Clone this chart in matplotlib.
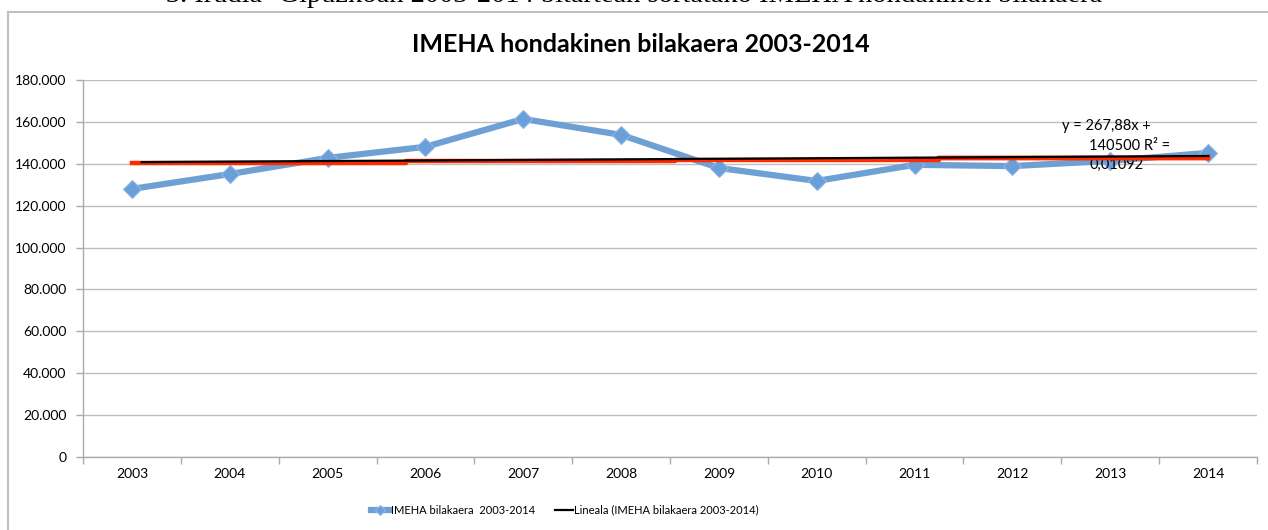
import numpy as np
import matplotlib.pyplot as plt
from matplotlib.patches import Rectangle
from matplotlib.ticker import FuncFormatter

years = ['2003', '2004', '2005', '2006', '2007', '2008',
         '2009', '2010', '2011', '2012', '2013', '2014']
imeha = [128000, 135100, 142800, 148100, 161400, 153800,
         138000, 131800, 139500, 138900, 141400, 145200]
# trendline from the equation label
slope = 267.88
intercept = 140500
r2 = '0,01092'

plt.rcParams['font.family'] = ['Lato', 'DejaVu Sans']

fig = plt.figure(figsize=(12.68, 5.30), dpi=100)

# outer chart frame
fig.patches.append(Rectangle((8 / 1268, -0.1), 1.2, 1.1 - 12 / 530,
                             transform=fig.transFigure, fill=False,
                             edgecolor='#bfbfbf', linewidth=1.5))

# caption of the figure, cut off at the top
fig.text(0.5, 1 - 2.5 / 530, '3. Irudia- Gipuzkoan 2003-2014 bitartean sortatako IMEHA hondakinen bilakaera',
         ha='center', va='baseline', fontsize=20.5, family='Liberation Serif')

ax = fig.add_axes([83 / 1268, 1 - 457 / 530, (1257 - 83) / 1268, (457 - 80) / 530])

x = np.arange(len(years))
ax.plot(x, imeha, color='#6fa0d4', linewidth=4.5, marker='D', markersize=9,
        markerfacecolor='#6b9fda', markeredgecolor='#8db6e4', markeredgewidth=0.8,
        label='IMEHA bilakaera  2003-2014', zorder=3)

# red stepped copy of the trendline underneath
steps = np.array([0, 0.1, 2.8, 5.55, 8.25, 11.0])
red_y = slope * (steps + 1) + intercept - 400
ax.step(steps, red_y, where='post', color='#ff2a00', linewidth=3.2, zorder=4)
ax.plot([steps[-2], steps[-1]], [red_y[-2], red_y[-2]], color='#ff2a00', linewidth=3.2, zorder=4)

tx = np.array([0.1, 11.0])
ax.plot(tx, slope * (tx + 1) + intercept, color='black', linewidth=1.6,
        label='Lineala (IMEHA bilakaera 2003-2014)', zorder=5)

ax.set_xlim(-0.5, 11.5)
ax.set_ylim(0, 180000)
ax.set_yticks(np.arange(0, 180001, 20000))
ax.yaxis.set_major_formatter(FuncFormatter(lambda v, p: f'{int(v):,}'.replace(',', '.')))
ax.set_xticks(np.arange(-0.5, 11.6, 1))
ax.set_xticklabels([])
ax.set_xticks(x, minor=True)
ax.set_xticklabels(years, minor=True)
ax.tick_params(axis='x', which='minor', length=0, pad=8, labelsize=10)
ax.tick_params(axis='x', which='major', length=5, color='#aaaaaa', width=1)
ax.tick_params(axis='y', length=5, color='#aaaaaa', width=1, labelsize=10, pad=7)
ax.grid(axis='y', color='#bfbfbf', linewidth=1)
ax.set_axisbelow(True)
for s in ['top', 'right']:
    ax.spines[s].set_visible(False)
for s in ['left', 'bottom']:
    ax.spines[s].set_color('#aaaaaa')
    ax.spines[s].set_linewidth(1)

fig.text(641 / 1268, 1 - 44 / 530, 'IMEHA hondakinen bilakaera 2003-2014',
         ha='center', va='center', fontsize=18, fontweight='bold')

# trendline equation label
ax.annotate(f'y = {slope:.2f}x +'.replace('.', ','), xy=(1062 / 1268, 1 - 126 / 530),
            xycoords='figure fraction', ha='left', va='center', fontsize=10.5)
ax.annotate(f'{intercept} R² =', xy=(1089 / 1268, 1 - 146 / 530),
            xycoords='figure fraction', ha='left', va='center', fontsize=10.5)
ax.annotate(r2, xy=(1089 / 1268, 1 - 165 / 530),
            xycoords='figure fraction', ha='left', va='center', fontsize=10.5)

fig.legend(loc='center', bbox_to_anchor=(565 / 1268, 1 - 510 / 530), ncol=2,
           frameon=False, fontsize=8, handlelength=1.6, handletextpad=0.15,
           columnspacing=1.8, markerscale=0.6)

fig.savefig('out.png', dpi=100)
